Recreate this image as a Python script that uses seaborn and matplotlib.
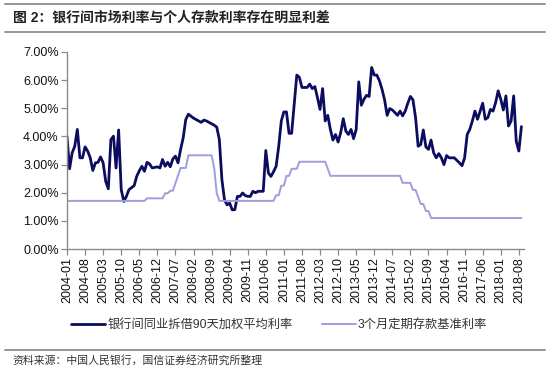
import numpy as np
import pandas as pd
import matplotlib
matplotlib.use("Agg")
import matplotlib.pyplot as plt
import seaborn as sns
from matplotlib.lines import Line2D

# ---------------- data ----------------
title = "图 2：银行间市场利率与个人存款利率存在明显利差"
source = "资料来源：中国人民银行，国信证券经济研究所整理"
series_names = ["银行间同业拆借90天加权平均利率", "3个月定期存款基准利率"]
start_month = "2004-01"

interbank = [
    4.00, 2.85, 3.42, 3.65, 4.25, 3.24, 3.24, 3.63, 3.48, 3.24, 2.79, 3.06,   # 2004
    3.08, 3.27, 3.06, 2.40, 2.14, 3.89, 4.01, 2.88, 4.23, 2.11, 1.69, 1.87,   # 2005
    2.11, 2.18, 2.25, 2.58, 2.78, 2.94, 2.76, 3.08, 3.02, 2.88, 2.90, 2.92,   # 2006
    2.88, 3.18, 2.94, 3.08, 2.92, 3.20, 3.30, 3.06, 3.54, 3.95, 4.60, 4.79,   # 2007
    4.72, 4.65, 4.60, 4.55, 4.50, 4.58, 4.55, 4.50, 4.45, 4.40, 4.33, 3.89,   # 2008
    2.46, 1.75, 1.57, 1.63, 1.39, 1.40, 1.87, 1.87, 1.99, 1.90, 1.87, 1.87,   # 2009
    2.05, 2.00, 2.05, 2.05, 2.05, 3.50, 2.70, 2.58, 2.75, 2.94, 3.65, 4.55,   # 2010
    4.87, 4.87, 4.11, 4.11, 5.15, 6.18, 6.10, 5.74, 5.74, 5.74, 5.86, 5.70,   # 2011
    5.77, 5.38, 4.96, 5.70, 4.55, 4.75, 4.25, 3.87, 4.07, 3.80, 4.13, 4.63,   # 2012
    4.19, 4.07, 4.25, 3.92, 4.25, 5.94, 5.11, 5.32, 5.46, 5.42, 6.45, 6.18,   # 2013
    6.18, 5.98, 5.68, 5.30, 4.75, 4.99, 4.94, 4.85, 4.75, 4.90, 4.73, 4.90,   # 2014
    5.18, 5.42, 5.30, 4.67, 3.65, 3.71, 4.23, 3.63, 3.54, 3.87, 3.42, 3.24,   # 2015
    3.39, 3.24, 3.00, 3.32, 3.24, 3.24, 3.24, 3.15, 3.06, 2.96, 3.24, 4.07,   # 2016
    4.25, 4.55, 4.90, 4.61, 4.90, 5.18, 4.61, 4.67, 4.96, 4.90, 5.20, 5.62,   # 2017
    5.32, 4.94, 5.44, 4.37, 4.55, 5.44, 3.83, 3.48, 4.35,                     # 2018
]

deposit = [
    1.71, 1.71, 1.71, 1.71, 1.71, 1.71, 1.71, 1.71, 1.71, 1.71, 1.71, 1.71,   # 2004
    1.71, 1.71, 1.71, 1.71, 1.71, 1.71, 1.71, 1.71, 1.71, 1.71, 1.71, 1.71,   # 2005
    1.71, 1.71, 1.71, 1.71, 1.71, 1.71, 1.71, 1.80, 1.80, 1.80, 1.80, 1.80,   # 2006
    1.80, 1.80, 1.98, 1.98, 2.07, 2.07, 2.34, 2.61, 2.88, 2.88, 2.88, 3.33,   # 2007
    3.33, 3.33, 3.33, 3.33, 3.33, 3.33, 3.33, 3.33, 3.33, 2.88, 1.98, 1.71,   # 2008
    1.71, 1.71, 1.71, 1.71, 1.71, 1.71, 1.71, 1.71, 1.71, 1.71, 1.71, 1.71,   # 2009
    1.71, 1.71, 1.71, 1.71, 1.71, 1.71, 1.71, 1.71, 1.71, 1.91, 1.91, 2.25,   # 2010
    2.25, 2.60, 2.60, 2.85, 2.85, 2.85, 3.10, 3.10, 3.10, 3.10, 3.10, 3.10,   # 2011
    3.10, 3.10, 3.10, 3.10, 3.10, 2.85, 2.60, 2.60, 2.60, 2.60, 2.60, 2.60,   # 2012
    2.60, 2.60, 2.60, 2.60, 2.60, 2.60, 2.60, 2.60, 2.60, 2.60, 2.60, 2.60,   # 2013
    2.60, 2.60, 2.60, 2.60, 2.60, 2.60, 2.60, 2.60, 2.60, 2.60, 2.35, 2.35,   # 2014
    2.35, 2.35, 2.10, 2.10, 1.85, 1.60, 1.60, 1.35, 1.35, 1.10, 1.10, 1.10,   # 2015
    1.10, 1.10, 1.10, 1.10, 1.10, 1.10, 1.10, 1.10, 1.10, 1.10, 1.10, 1.10,   # 2016
    1.10, 1.10, 1.10, 1.10, 1.10, 1.10, 1.10, 1.10, 1.10, 1.10, 1.10, 1.10,   # 2017
    1.10, 1.10, 1.10, 1.10, 1.10, 1.10, 1.10, 1.10, 1.10,                     # 2018
]

tick_labels = ["2004-01", "2004-08", "2005-03", "2005-10", "2006-05", "2006-12",
               "2007-07", "2008-02", "2008-09", "2009-04", "2009-11", "2010-06",
               "2011-01", "2011-08", "2012-03", "2012-10", "2013-05", "2013-12",
               "2014-07", "2015-02", "2015-09", "2016-04", "2016-11", "2017-06",
               "2018-01", "2018-08"]
y_ticks = [0, 1, 2, 3, 4, 5, 6, 7]

# ---------------- table ----------------
months = pd.period_range(start_month, periods=len(interbank), freq="M").astype(str)
pos = {m: i for i, m in enumerate(months)}
df = pd.DataFrame({"month": months, "pos": np.arange(len(months)),
                   series_names[0]: interbank, series_names[1]: deposit})
long = df.melt(id_vars=["month", "pos"], var_name="series", value_name="rate")

# ---------------- style ----------------
sns.set_style("white")
plt.rcParams["font.family"] = ["Liberation Sans", "Noto Sans CJK SC", "DejaVu Sans"]

fig = plt.figure(figsize=(5.5, 3.7), dpi=100)
ax = fig.add_axes([67 / 550, 1 - 249 / 370, (524 - 67) / 550, (249 - 52) / 370])

palette = {series_names[0]: "#0c0c60", series_names[1]: "#9e9edb"}
widths = {series_names[0]: 2.0, series_names[1]: 1.4}
sns.lineplot(data=long, x="pos", y="rate", hue="series", palette=palette,
             ax=ax, legend=False, estimator=None, sort=False)
for ln, name in zip(ax.get_lines(), series_names):
    ln.set_linewidth(widths[name])

ax.set_xlim(0, len(months))
ax.set_ylim(0, 7)
ax.set_yticks(y_ticks)
ax.set_yticklabels([f"{v:.2f}%" for v in y_ticks], fontsize=9, color="#111111")
ax.set_xticks([pos[t] for t in tick_labels])
ax.set_xticklabels(tick_labels, rotation=90, fontsize=9, color="#111111")
ax.set_xlabel("")
ax.set_ylabel("")
for s in ["top", "right"]:
    ax.spines[s].set_visible(False)
for s in ["left", "bottom"]:
    ax.spines[s].set_color("#8a8a8a")
    ax.spines[s].set_linewidth(1.0)
ax.tick_params(axis="both", direction="out", length=4, width=0.9, color="#8a8a8a",
               pad=2, left=True, bottom=True)
ax.grid(False)

# legend
handles = [Line2D([], [], color=palette[n], lw=widths[n]) for n in series_names]
leg = fig.legend(handles, series_names, loc="center", bbox_to_anchor=(279 / 550, 1 - 325 / 370),
                 ncol=2, frameon=False, fontsize=8.8, handlelength=2.8, handletextpad=0.15,
                 columnspacing=2.4)
for t in leg.get_texts():
    t.set_color("#333333")

# title & source decorations
for yy in [4, 32, 350]:
    fig.add_artist(Line2D([5 / 550, 545 / 550], [1 - yy / 370, 1 - yy / 370],
                          color="#8c8c8c", lw=1.3, transform=fig.transFigure))
fig.text(13 / 550, 1 - 18 / 370, title, fontsize=10, fontweight="bold",
         va="center", ha="left", color="#222222")
fig.text(12 / 550, 1 - 360 / 370, source, fontsize=7.8, va="center", ha="left",
         color="#333333")

fig.savefig("out.png", dpi=100, facecolor="white")
